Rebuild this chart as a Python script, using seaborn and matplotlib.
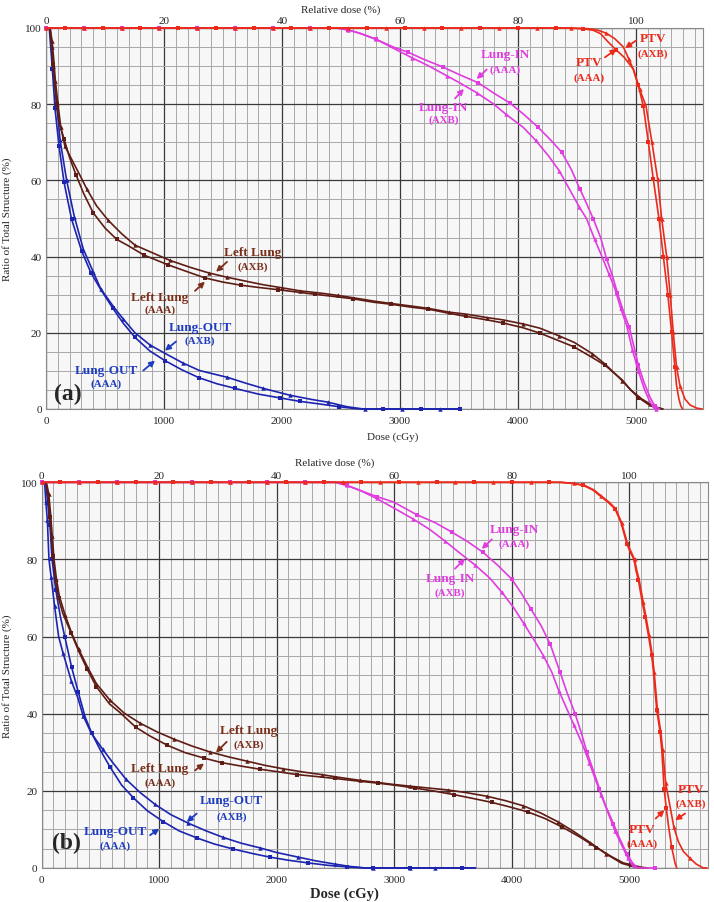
import numpy as np
import pandas as pd
import matplotlib
matplotlib.use("Agg")
import matplotlib.pyplot as plt
import seaborn as sns

# ---------------- DATA ----------------
# marker positions visible along the 100 % plateau and along the 0 % floor
plateau_marks = [0, 160, 320, 480, 640, 800, 960, 1120, 1280, 1440, 1600, 1760, 1920, 2080,
                 2240, 2400, 2560, 2720, 2880, 3040, 3200, 3360, 3520, 3680, 3840, 4000, 4160, 4320]
floor_marks = [2700, 2860, 3020, 3180, 3340, 3508]

# Panel (a)
a_out_aaa_d = [0, 28, 40, 54, 76, 110, 153, 217, 302, 380, 463, 565, 655, 754, 881, 1008, 1150, 1297, 1450, 1602, 1800, 1983, 2150, 2322, 2480, 2620]
a_out_aaa_r = [100, 100, 95, 89.2, 79.0, 69.1, 59.5, 49.8, 41.5, 35.8, 31.4, 26.5, 22.5, 18.8, 15.2, 12.7, 10.3, 8.2, 6.6, 5.4, 3.9, 2.9, 2.0, 1.3, 0.6, 0.1]
a_out_axb_d = [0, 35, 50, 62, 90, 120, 175, 240, 316, 400, 463, 571, 655, 754, 881, 1008, 1158, 1300, 1537, 1700, 1842, 2068, 2250, 2387, 2548, 2660]
a_out_axb_r = [100, 100, 95, 90, 80, 70.5, 60, 50.5, 42, 36, 31.6, 26.9, 23.6, 20.0, 16.8, 14.6, 12.1, 10.1, 8.3, 6.7, 5.4, 3.6, 2.5, 1.8, 0.6, 0.1]

a_ll_axb_d = [0, 35, 52, 65, 80, 100, 125, 160, 218, 290, 345, 429, 528, 641, 754, 924, 1050, 1220, 1380, 1531, 1700, 1842, 2000, 2153, 2330, 2477, 2661, 2780, 2921, 3099, 3240, 3418, 3559, 3734, 3870, 4045, 4186, 4347, 4475, 4630, 4737, 4884, 4955, 5050, 5119, 5180, 5230]
a_ll_axb_r = [100, 100, 96.5, 92, 86, 80.5, 74, 69, 65.5, 61.2, 57.8, 53.3, 49.5, 46, 43.0, 40.7, 39.0, 37.2, 35.7, 34.6, 33.5, 32.6, 31.8, 31.0, 30.4, 29.8, 28.9, 28.3, 27.7, 27.0, 26.4, 25.4, 24.9, 24.0, 23.4, 22.3, 21.2, 19.2, 17.5, 14.5, 11.8, 7.4, 5.0, 2.6, 1.3, 0.4, 0]
a_ll_aaa_d = [0, 30, 45, 58, 72, 90, 113, 153, 200, 254, 320, 400, 500, 600, 700, 830, 1037, 1200, 1347, 1500, 1650, 1800, 1969, 2150, 2280, 2450, 2605, 2780, 2921, 3099, 3240, 3418, 3559, 3734, 3870, 4045, 4186, 4347, 4475, 4630, 4737, 4884, 4955, 5020, 5100, 5160, 5218]
a_ll_aaa_r = [100, 100, 96, 90.5, 85.7, 80, 75, 70.9, 66, 61.5, 56.5, 51.5, 47.5, 44.5, 42.8, 40.4, 37.8, 36.0, 34.4, 33.3, 32.5, 31.9, 31.3, 30.6, 30.1, 29.5, 28.9, 28.0, 27.5, 26.7, 26.2, 25.1, 24.3, 23.4, 22.6, 21.3, 19.9, 17.9, 16.3, 13.5, 11.5, 7.6, 5.0, 3.0, 1.3, 0.4, 0]

a_in_aaa_d = [2300, 2460, 2560, 2661, 2800, 2943, 3071, 3200, 3367, 3500, 3664, 3800, 3932, 4050, 4172, 4280, 4370, 4450, 4525, 4580, 4638, 4700, 4751, 4800, 4842, 4900, 4943, 5020, 5070, 5120, 5160, 5200]
a_in_aaa_r = [100, 100, 99.5, 98.6, 97, 95, 93.6, 91.8, 89.7, 87.8, 85.6, 82.8, 80.3, 77.3, 73.9, 70.5, 67.4, 63, 57.7, 54, 49.9, 45.0, 39.4, 35, 30.5, 25, 21.5, 11.5, 6.8, 3.0, 0.8, 0]
a_in_axb_d = [2300, 2460, 2560, 2661, 2800, 2943, 3100, 3240, 3400, 3523, 3650, 3791, 3900, 4045, 4150, 4257, 4350, 4427, 4520, 4582, 4650, 4709, 4770, 4822, 4870, 4921, 4970, 5020, 5070, 5113, 5150, 5170]
a_in_axb_r = [100, 100, 99.5, 98.6, 97, 94.7, 92.2, 90.1, 87.4, 85.3, 83.0, 80.1, 77.3, 73.9, 70.5, 66.5, 62.5, 58.2, 53, 49.9, 44.5, 40.2, 35.5, 31.5, 26.5, 21.9, 15.5, 10.0, 5.3, 2.2, 0.3, 0]

a_ptv_aaa_d = [4400, 4550, 4638, 4700, 4765, 4830, 4900, 4977, 5020, 5062, 5105, 5147, 5195, 5232, 5270, 5302, 5330, 5344, 5364, 5380, 5395]
a_ptv_aaa_r = [100, 99.8, 99.4, 98.5, 96.3, 94.3, 92.3, 89.2, 85, 79.5, 70, 60.3, 49.9, 40, 30, 20.1, 10.9, 6.1, 2.6, 0.8, 0]
a_ptv_axb_d = [4450, 4600, 4680, 4750, 4820, 4893, 4940, 4977, 5030, 5085, 5135, 5184, 5218, 5260, 5290, 5316, 5344, 5373, 5415, 5460, 5517, 5560]
a_ptv_axb_r = [100, 99.8, 99.4, 98.6, 97.2, 95, 91.8, 89.2, 84, 79.5, 70, 60.3, 49.9, 40, 30, 20.1, 10.9, 6.1, 2.6, 1.0, 0.2, 0]

# Panel (b)
b_out_aaa_d = [0, 35, 50, 70, 88, 120, 160, 196, 255, 312, 369, 425, 500, 581, 680, 780, 900, 1035, 1170, 1319, 1470, 1631, 1800, 1943, 2100, 2269, 2430, 2596]
b_out_aaa_r = [100, 100, 95, 89, 80, 72, 65, 60, 52, 45.5, 39.2, 35.0, 30.5, 26.2, 21.5, 18.2, 14.8, 12.0, 9.6, 7.8, 6.2, 4.9, 3.7, 2.8, 2.0, 1.3, 0.7, 0.3]
b_out_axb_d = [0, 25, 35, 48, 62, 80, 110, 144, 181, 252, 309, 352, 423, 519, 600, 717, 840, 964, 1100, 1248, 1400, 1546, 1700, 1858, 2000, 2184, 2340, 2496, 2620]
b_out_axb_r = [100, 100, 95, 90.2, 80, 75.5, 67.8, 60, 55.8, 48.5, 44, 39.5, 34.9, 30.8, 27.5, 23.0, 19.5, 16.5, 13.8, 11.6, 9.6, 7.9, 6.4, 5.2, 4.0, 2.8, 1.8, 1.0, 0.4]
b_floor_marks = [2750, 2822, 3021, 3135, 3347, 3580, 3690]

b_ll_axb_d = [0, 40, 60, 75, 90, 105, 125, 150, 200, 260, 315, 388, 465, 578, 700, 834, 980, 1126, 1280, 1430, 1590, 1745, 1900, 2057, 2220, 2383, 2550, 2709, 2822, 2980, 3135, 3300, 3461, 3620, 3787, 3940, 4099, 4250, 4397, 4530, 4667, 4800, 4936, 5050, 5120]
b_ll_axb_r = [100, 100, 97, 92, 86, 80, 75, 70.5, 65.5, 60.5, 56.7, 52.2, 47.8, 43.6, 40.2, 37.6, 35.3, 33.4, 31.6, 30.1, 28.8, 27.7, 26.6, 25.7, 24.9, 24.2, 23.4, 22.7, 22.3, 21.7, 21.2, 20.7, 20.2, 19.5, 18.6, 17.5, 16.1, 14.2, 11.9, 9.4, 6.6, 3.7, 1.2, 0.2, 0]
b_ll_aaa_d = [0, 35, 55, 68, 82, 96, 120, 144, 180, 252, 315, 388, 465, 578, 666, 800, 922, 1070, 1220, 1380, 1532, 1700, 1858, 2020, 2176, 2340, 2496, 2700, 2860, 3021, 3180, 3347, 3510, 3673, 3830, 3986, 4140, 4284, 4430, 4581, 4720, 4851, 4950, 5021, 5100, 5154]
b_ll_aaa_r = [100, 100, 96, 91, 86, 81, 74, 69.9, 66, 60.8, 56.2, 51.5, 47, 42.5, 40.3, 36.5, 34.2, 31.8, 29.9, 28.5, 27.3, 26.4, 25.6, 24.9, 24.2, 23.7, 23.2, 22.5, 22.0, 21.4, 20.7, 19.9, 19.0, 18.0, 17.0, 15.8, 14.5, 12.8, 10.6, 8.0, 5.3, 2.9, 1.3, 0.8, 0.2, 0]

b_in_aaa_d = [2500, 2596, 2709, 2850, 2993, 3191, 3350, 3489, 3620, 3753, 3880, 4000, 4080, 4162, 4250, 4326, 4411, 4470, 4539, 4590, 4639, 4680, 4746, 4800, 4865, 4920, 4979, 5030, 5064, 5100, 5220]
b_in_aaa_r = [100, 99.2, 97.9, 96.3, 94.9, 91.6, 89.5, 87.1, 84.7, 81.9, 78.5, 74.9, 71.3, 67.2, 62.8, 58.1, 50.8, 45.5, 40.0, 35.2, 30.1, 26.5, 20.6, 16.0, 11.5, 7.5, 3.7, 1.2, 0.2, 0, 0]
b_in_axb_d = [2500, 2596, 2709, 2850, 3021, 3160, 3305, 3430, 3560, 3690, 3815, 3915, 4014, 4100, 4184, 4270, 4340, 4400, 4468, 4530, 4605, 4660, 4709, 4760, 4822, 4880, 4950, 4990, 5030, 5060]
b_in_axb_r = [100, 99.2, 97.9, 95.8, 92.9, 90.5, 87.7, 84.8, 81.6, 78.5, 75.1, 71.5, 67.6, 63.5, 59.4, 55.0, 50.8, 46.0, 41.3, 37.0, 31.8, 27.3, 23.2, 19.0, 14.1, 9.5, 5.0, 2.5, 0.5, 0]

b_ptv_aaa_d = [4411, 4520, 4609, 4690, 4751, 4820, 4879, 4930, 4979, 5007, 5040, 5058, 5078, 5110, 5135, 5163, 5191, 5206, 5234, 5262, 5277, 5296, 5315, 5333, 5360, 5390, 5404]
b_ptv_aaa_r = [100, 99.7, 99.2, 98, 96.5, 94.8, 93.1, 89.5, 84.1, 82, 80, 77, 74.6, 69, 65.1, 60.3, 55.1, 50.8, 40.9, 35.3, 30.5, 20.6, 15.5, 11.1, 5.5, 1.2, 0]
b_ptv_axb_d = [4420, 4530, 4620, 4700, 4760, 4830, 4885, 4935, 4985, 5015, 5045, 5065, 5085, 5118, 5142, 5170, 5196, 5212, 5240, 5268, 5285, 5310, 5348, 5380, 5418, 5460, 5517, 5570, 5630, 5660]
b_ptv_axb_r = [100, 99.7, 99.2, 98, 96.5, 94.8, 93.1, 89.5, 84.1, 82, 80, 77, 74.6, 69, 65.1, 60.3, 55.1, 50.8, 40.9, 35.3, 30.5, 22.0, 15.8, 10.5, 6.8, 4.3, 2.5, 1.0, 0, 0]

dose_ticks = [0, 1000, 2000, 3000, 4000, 5000]
ratio_ticks = [0, 20, 40, 60, 80, 100]
rel_ticks = [0, 20, 40, 60, 80, 100]
prescription = 5000  # 100 % relative dose

# ---------------- STYLE ----------------
sns.set_style("white")
plt.rcParams['font.family'] = ['Liberation Serif', 'DejaVu Serif']

C_BLUE = '#1c24b0'
C_BROWN = '#5e1c14'
C_MAG = '#e03ce0'
C_RED = '#ec2a1c'
T_BLUE = '#1d3cc0'
T_BROWN = '#7a2e1a'

fig = plt.figure(figsize=(7.14, 9.03), dpi=100)
ax_a = fig.add_axes([0.0644, 0.5460, 0.9202, 0.4219])
ax_b = fig.add_axes([0.0584, 0.0377, 0.9332, 0.4271])


def with_plateau(d, r):
    """prepend the 100 % plateau marks that lie before the first read point"""
    head = [x for x in plateau_marks if x < d[0]]
    return head + list(d), [100] * len(head) + list(r)


def with_floor(d, r, floor):
    tail = [x for x in floor if x > d[-1]]
    return list(d) + tail, list(r) + [0] * len(tail)


def draw_series(ax, d, r, color, marker, ms, offset):
    df = pd.DataFrame({'dose': d, 'ratio': r})
    sns.lineplot(data=df, x='dose', y='ratio', ax=ax, color=color, lw=1.2,
                 marker=marker, markersize=ms, markeredgewidth=0,
                 markerfacecolor=color, estimator=None, sort=False,
                 markevery=(offset, 0.049), clip_on=False, zorder=3)


def style_axes(ax, xmax):
    ax.set_xlim(0, xmax)
    ax.set_ylim(0, 100)
    ax.set_facecolor('#f7f7f7')
    ax.set_xticks(dose_ticks)
    ax.set_yticks(ratio_ticks)
    ax.set_xticks(np.arange(0, xmax, 100), minor=True)
    ax.set_yticks(np.arange(0, 101, 5), minor=True)
    ax.grid(which='minor', color='#a8a8a8', lw=0.7, zorder=0)
    ax.grid(which='major', color='#3a3a3a', lw=0.9, zorder=1)
    ax.set_axisbelow(True)
    ax.tick_params(which='both', length=0)
    ax.tick_params(axis='x', labelsize=8, pad=5)
    ax.tick_params(axis='y', labelsize=8, pad=3)
    for s in ax.spines.values():
        s.set_color('#8a8a8a')
        s.set_linewidth(0.8)
    sec = ax.secondary_xaxis('top', functions=(lambda x: x / prescription * 100,
                                               lambda x: x * prescription / 100))
    sec.set_xticks(rel_ticks)
    sec.tick_params(length=0, labelsize=8, pad=2)
    sec.spines['top'].set_visible(False)
    ax.set_ylabel('Ratio of Total Structure (%)', fontsize=8)


def label(ax, name, sub, xy, color, arrow_from, arrow_to, sub_dy):
    ax.text(xy[0], xy[1], name, color=color, fontsize=9.5, fontweight='bold',
            ha='center', va='center', zorder=5)
    ax.text(xy[0], xy[1] - sub_dy, sub, color=color, fontsize=7.8, fontweight='bold',
            ha='center', va='center', zorder=5)
    ax.annotate('', xy=arrow_to, xytext=arrow_from, zorder=5,
                arrowprops=dict(arrowstyle='-|>', color=color, lw=1.3,
                                mutation_scale=8, shrinkA=0, shrinkB=0))


def draw_panel(ax, out_aaa, out_axb, ll_aaa, ll_axb, in_aaa, in_axb, ptv_aaa, ptv_axb, floor):
    draw_series(ax, *with_floor(*out_aaa, floor), C_BLUE, 's', 2.6, 0.0)
    draw_series(ax, *with_floor(*out_axb, floor), C_BLUE, '^', 3.2, 0.024)
    draw_series(ax, *ll_aaa, C_BROWN, 's', 2.6, 0.0)
    draw_series(ax, *ll_axb, C_BROWN, '^', 3.2, 0.024)
    draw_series(ax, *with_plateau(*in_aaa), C_MAG, 's', 2.6, 0.0)
    draw_series(ax, *with_plateau(*in_axb), C_MAG, '^', 3.2, 0.0)
    draw_series(ax, *with_plateau(*ptv_aaa), C_RED, 's', 2.6, 0.024)
    draw_series(ax, *with_plateau(*ptv_axb), C_RED, '^', 3.2, 0.0)


# ---------------- PANEL (a) ----------------
draw_panel(ax_a, (a_out_aaa_d, a_out_aaa_r), (a_out_axb_d, a_out_axb_r),
           (a_ll_aaa_d, a_ll_aaa_r), (a_ll_axb_d, a_ll_axb_r),
           (a_in_aaa_d, a_in_aaa_r), (a_in_axb_d, a_in_axb_r),
           (a_ptv_aaa_d, a_ptv_aaa_r), (a_ptv_axb_d, a_ptv_axb_r), floor_marks)
style_axes(ax_a, 5568)
ax_a.set_xlabel('Dose (cGy)', fontsize=8)
ax_a.xaxis.set_label_coords(0.528, -0.058)
ax_a.yaxis.set_label_coords(-0.052, 0.5)
ax_a.text(0.449, 1.05, 'Relative dose (%)', transform=ax_a.transAxes,
          fontsize=8, ha='center', va='center')

label(ax_a, 'Left Lung', '(AXB)', (1754, 41.2), T_BROWN, (1534, 38.6), (1441, 36.0), 3.7)
label(ax_a, 'Left Lung', '(AAA)', (966, 29.4), T_BROWN, (1263, 31.0), (1347, 33.4), 3.3)
label(ax_a, 'Lung-OUT', '(AXB)', (1305, 21.4), T_BLUE, (1102, 17.7), (1008, 15.3), 3.3)
label(ax_a, 'Lung-OUT', '(AAA)', (508, 10.1), T_BLUE, (825, 10.1), (924, 12.7), 3.4)
label(ax_a, 'Lung-IN', '(AAA)', (3890, 93.2), C_MAG, (3735, 89.1), (3650, 86.6), 4.1)
label(ax_a, 'Lung-IN', '(AXB)', (3367, 79.2), C_MAG, (3466, 81.5), (3542, 84.0), 3.1)
label(ax_a, 'PTV', '(AXB)', (5141, 97.3), C_RED, (5000, 96.7), (4907, 94.7), 3.9)
label(ax_a, 'PTV', '(AAA)', (4604, 91.0), C_RED, (4737, 92.3), (4836, 94.5), 3.9)
ax_a.text(186, 4.0, '(a)', fontsize=17, fontweight='bold', ha='center', va='center', zorder=5)

# ---------------- PANEL (b) ----------------
draw_panel(ax_b, (b_out_aaa_d, b_out_aaa_r), (b_out_axb_d, b_out_axb_r),
           (b_ll_aaa_d, b_ll_aaa_r), (b_ll_axb_d, b_ll_axb_r),
           (b_in_aaa_d, b_in_aaa_r), (b_in_axb_d, b_in_axb_r),
           (b_ptv_aaa_d, b_ptv_aaa_r), (b_ptv_axb_d, b_ptv_axb_r), b_floor_marks)
style_axes(ax_b, 5670)
ax_b.set_xlabel('Dose (cGy)', fontsize=10.5, fontweight='bold')
ax_b.xaxis.set_label_coords(0.455, -0.049)
ax_b.yaxis.set_label_coords(-0.045, 0.5)
ax_b.text(0.44, 1.052, 'Relative dose (%)', transform=ax_b.transAxes,
          fontsize=8, ha='center', va='center')

label(ax_b, 'Left Lung', '(AXB)', (1758, 35.7), T_BROWN, (1574, 32.7), (1483, 29.9), 3.7)
label(ax_b, 'Left Lung', '(AAA)', (1007, 25.8), T_BROWN, (1305, 25.3), (1381, 27.1), 3.5)
label(ax_b, 'Lung-OUT', '(AXB)', (1617, 17.6), T_BLUE, (1319, 14.1), (1234, 11.9), 4.1)
label(ax_b, 'Lung-OUT', '(AAA)', (624, 9.5), T_BLUE, (922, 8.5), (1001, 10.2), 3.5)
label(ax_b, 'Lung-IN', '(AAA)', (4020, 87.9), C_MAG, (3830, 85.2), (3745, 82.7), 3.6)
label(ax_b, 'Lung-IN', '(AXB)', (3475, 75.1), C_MAG, (3517, 77.6), (3602, 80.2), 3.6)
label(ax_b, 'PTV', '(AXB)', (5523, 20.6), C_RED, (5475, 14.1), (5390, 12.4), 3.7)
label(ax_b, 'PTV', '(AAA)', (5106, 10.0), C_RED, (5224, 12.8), (5299, 15.0), 3.7)
ax_b.text(213, 6.7, '(b)', fontsize=17, fontweight='bold', ha='center', va='center', zorder=5)

fig.savefig('out.png', dpi=100)
